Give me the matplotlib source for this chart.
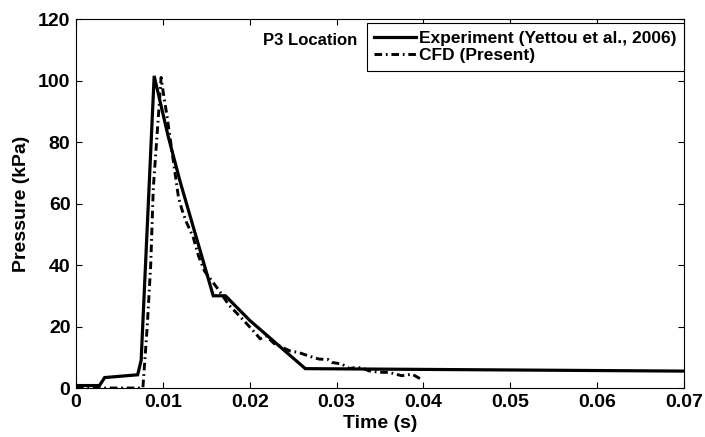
import matplotlib
matplotlib.use("Agg")
import matplotlib.pyplot as plt

plt.rcParams['font.family'] = ['Liberation Sans', 'DejaVu Sans']
plt.rcParams['font.weight'] = 'bold'

# Experiment (Yettou et al., 2006)
exp_t = [0.0, 0.0027, 0.0033, 0.0071, 0.0075, 0.0090, 0.0106, 0.0120, 0.0158, 0.0172, 0.0200, 0.0264, 0.0700]
exp_p = [0.8, 0.8, 3.4, 4.3, 9.0, 101.5, 82.0, 67.0, 30.0, 30.0, 22.0, 6.3, 5.5]

# CFD (Present)
cfd_t = [0.0, 0.0077, 0.0082, 0.0086, 0.0089, 0.0094, 0.0098, 0.0100, 0.0105, 0.0110, 0.0118,
         0.0122, 0.0127, 0.0135, 0.0141, 0.0148, 0.0156, 0.0164, 0.0176, 0.0192, 0.0206,
         0.0212, 0.0219, 0.0228, 0.0234, 0.0246, 0.0257, 0.0268, 0.0280, 0.0290, 0.0295,
         0.0306, 0.0315, 0.0322, 0.0330, 0.0337, 0.0349, 0.0360, 0.0375, 0.0387, 0.0397]
cfd_p = [0.0, 0.0, 20.0, 40.0, 65.0, 85.0, 101.0, 97.0, 88.0, 78.0, 62.0,
         58.0, 54.0, 49.0, 43.0, 38.0, 35.0, 32.0, 27.0, 22.3, 18.0,
         16.0, 16.9, 14.5, 13.7, 12.1, 11.5, 10.4, 9.4, 9.3, 8.3,
         7.8, 6.3, 6.7, 6.5, 5.6, 5.1, 5.1, 4.0, 4.5, 2.9]

xticks = [0, 0.01, 0.02, 0.03, 0.04, 0.05, 0.06, 0.07]
xtick_labels = ['0', '0.01', '0.02', '0.03', '0.04', '0.05', '0.06', '0.07']
yticks = [0, 20, 40, 60, 80, 100, 120]

fig = plt.figure(figsize=(7.05, 4.37), dpi=100)
ax = fig.add_axes([0.1078, 0.1121, 0.8624, 0.8444])

ax.plot(exp_t, exp_p, color='black', lw=2.3, solid_joinstyle='miter',
        label='Experiment (Yettou et al., 2006)')
ax.plot(cfd_t, cfd_p, color='black', lw=2.1, linestyle=(0, (2.6, 1.3, 0.6, 1.3)),
        label='CFD (Present)')

ax.set_xlim(0, 0.07)
ax.set_ylim(0, 120)
ax.set_xticks(xticks)
ax.set_xticklabels(xtick_labels)
ax.set_yticks(yticks)
ax.tick_params(direction='in', length=4, width=0.8, top=True, right=True,
               labelsize=14, pad=4)
for lab in ax.get_xticklabels() + ax.get_yticklabels():
    lab.set_fontweight('bold')
for s in ax.spines.values():
    s.set_linewidth(0.8)

ax.set_xlabel('Time (s)', fontsize=14, fontweight='bold', labelpad=3)
ax.set_ylabel('Pressure (kPa)', fontsize=14, fontweight='bold', labelpad=6)

ax.text(0.0215, 113, 'P3 Location', fontsize=12, fontweight='bold', ha='left', va='center')

leg = ax.legend(loc='upper right', bbox_to_anchor=(1.0, 0.99), borderaxespad=0,
                fancybox=False, edgecolor='black', framealpha=1,
                prop={'size': 12.5, 'weight': 'bold'}, handlelength=2.4,
                handletextpad=0.15, borderpad=0.45, labelspacing=0.15)
leg.get_frame().set_linewidth(0.8)

fig.savefig('out.png', dpi=100)
